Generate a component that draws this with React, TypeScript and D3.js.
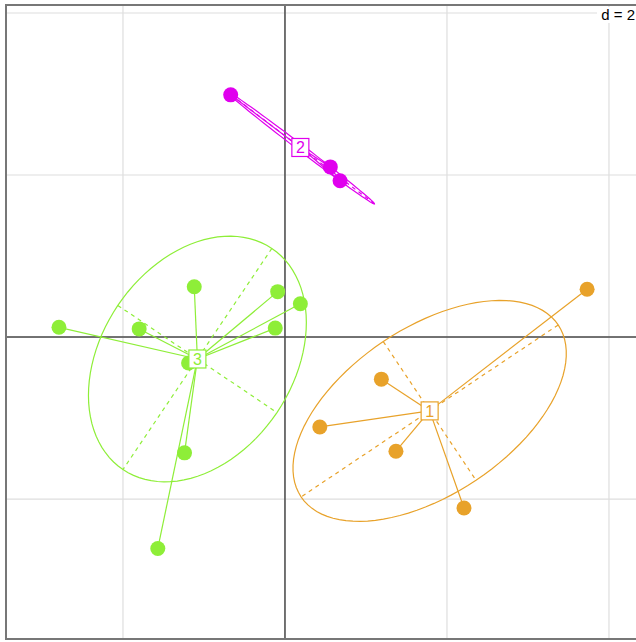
import React, { useLayoutEffect } from "react";
import * as d3 from "d3";

// group labels and colours
const groups = ["1", "2", "3"];
const colors = ["#E8A22A", "#E000EE", "#8EEE38"];

// scores (x, y) of each row, by group
const group1X = [3.73, 1.19, 0.43, 1.37, 2.21];
const group1Y = [0.59, -0.52, -1.11, -1.41, -2.11];
const group2X = [-0.67, 0.56, 0.68];
const group2Y = [2.99, 2.10, 1.93];
const group3X = [-2.79, -1.80, -1.12, -0.09, 0.19, -0.12, -1.19, -1.24, -1.57];
const group3Y = [0.12, 0.10, 0.62, 0.56, 0.41, 0.11, -0.32, -1.43, -2.61];

const gridTicks = [-4, -2, 0, 2, 4];
const gridLabel = "d = 2";

const W = 636;
const H = 642;

type Pt = { x: number; y: number };

// same as ade4 util.ellipse: covariance ellipse with coeff * sd
function ellipse(pts: Pt[], coeff: number) {
  const n = pts.length;
  const mx = d3.mean(pts, (p) => p.x)!;
  const my = d3.mean(pts, (p) => p.y)!;
  let vx = 0, vy = 0, cxy = 0;
  for (const p of pts) {
    vx += (p.x - mx) * (p.x - mx) / n;
    vy += (p.y - my) * (p.y - my) / n;
    cxy += (p.x - mx) * (p.y - my) / n;
  }
  const delta = Math.sqrt((vx - vy) * (vx - vy) + 4 * cxy * cxy);
  let l1 = (vx + vy + delta) / 2;
  let l2 = vx + vy - l1;
  l1 = Math.sqrt(Math.max(l1, 0));
  l2 = Math.sqrt(Math.max(l2, 0));
  let a0 = 1, b0 = 0;
  if (Math.abs(cxy) < 1e-10) {
    if (vx > vy) { a0 = 1; b0 = 0; } else { a0 = 0; b0 = 1; }
  } else {
    b0 = (l1 * l1 - vx) / cxy;
    const norm = Math.sqrt(1 + b0 * b0);
    a0 = 1 / norm;
    b0 = b0 / norm;
  }
  const c11 = coeff * a0 * l1;
  const c12 = -coeff * b0 * l2;
  const c21 = coeff * b0 * l1;
  const c22 = coeff * a0 * l2;
  const ring: Pt[] = [];
  for (let i = 0; i < 100; i++) {
    const a = (2 * Math.PI * i) / 100;
    ring.push({
      x: mx + c11 * Math.cos(a) + c12 * Math.sin(a),
      y: my + c21 * Math.cos(a) + c22 * Math.sin(a),
    });
  }
  return { mx, my, c11, c12, c21, c22, ring };
}

export default function App() {
  useLayoutEffect(() => {
    document.body.style.margin = "0";
  }, []);

  const x = d3.scaleLinear().domain([-3.444, 4.383]).range([6, 640]);
  const y = d3.scaleLinear().domain([-3.728, 4.099]).range([639, 5]);

  const data: Pt[][] = [
    group1X.map((v, i) => ({ x: v, y: group1Y[i] })),
    group2X.map((v, i) => ({ x: v, y: group2Y[i] })),
    group3X.map((v, i) => ({ x: v, y: group3Y[i] })),
  ];
  const ells = data.map((pts) => ellipse(pts, 1.5));
  const line = d3.line<Pt>().x((p) => x(p.x)).y((p) => y(p.y)).curve(d3.curveLinearClosed);

  const font = "Liberation Sans, Arial, sans-serif";

  return (
    <svg width={W} height={H} style={{ display: "block" }}>
      <rect width={W} height={H} fill="#fff" />
      {gridTicks.map((t) => (
        <g key={"g" + t}>
          <line x1={x(t)} x2={x(t)} y1={5} y2={639} stroke="#dedede" strokeWidth={1.2} />
          <line x1={6} x2={640} y1={y(t)} y2={y(t)} stroke="#dedede" strokeWidth={1.2} />
        </g>
      ))}
      <line x1={x(0)} x2={x(0)} y1={5} y2={639} stroke="#4a4a4a" strokeWidth={1.5} />
      <line x1={6} x2={640} y1={y(0)} y2={y(0)} stroke="#4a4a4a" strokeWidth={1.5} />
      <rect x={6} y={5} width={634} height={634} fill="none" stroke="#777" strokeWidth={2} />
      <rect x={597} y={7} width={39} height={16} fill="#fff" />
      <text x={635} y={19.5} textAnchor="end" fontFamily={font} fontSize={15} fill="#000">
        {gridLabel}
      </text>

      {ells.map((e, g) => (
        <g key={"e" + g} stroke={colors[g]} fill="none" strokeWidth={1.2}>
          <path d={line(e.ring)!} />
          <line x1={x(e.mx + e.c11)} y1={y(e.my + e.c21)} x2={x(e.mx - e.c11)} y2={y(e.my - e.c21)} strokeDasharray="4,4" />
          <line x1={x(e.mx + e.c12)} y1={y(e.my + e.c22)} x2={x(e.mx - e.c12)} y2={y(e.my - e.c22)} strokeDasharray="4,4" />
        </g>
      ))}

      {data.map((pts, g) =>
        pts.map((p, i) => (
          <line key={"s" + g + "-" + i} x1={x(ells[g].mx)} y1={y(ells[g].my)} x2={x(p.x)} y2={y(p.y)} stroke={colors[g]} strokeWidth={1.2} />
        ))
      )}

      {data.map((pts, g) =>
        pts.map((p, i) => (
          <circle key={"p" + g + "-" + i} cx={x(p.x)} cy={y(p.y)} r={7.5} fill={colors[g]} />
        ))
      )}

      {ells.map((e, g) => (
        <g key={"l" + g}>
          <rect x={x(e.mx) - 8.5} y={y(e.my) - 9} width={17} height={18} fill="#fff" stroke={colors[g]} strokeWidth={1.2} />
          <text x={x(e.mx)} y={y(e.my) + 6} textAnchor="middle" fontFamily={font} fontSize={16} fill={colors[g]}>
            {groups[g]}
          </text>
        </g>
      ))}
    </svg>
  );
}
